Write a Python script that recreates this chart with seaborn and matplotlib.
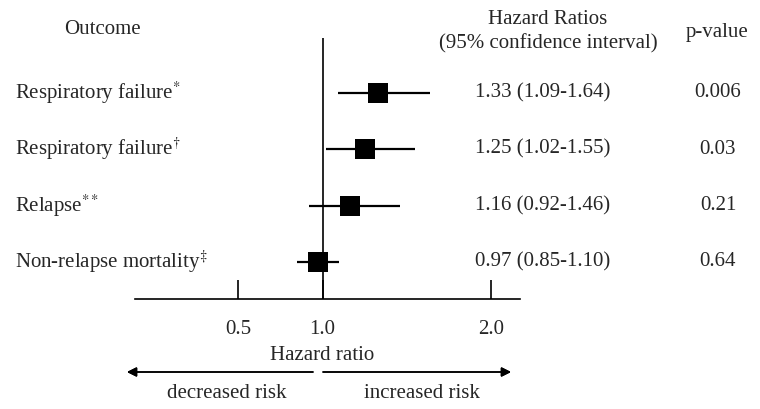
import numpy as np
import seaborn as sns
import matplotlib.pyplot as plt
from matplotlib import transforms

outcomes = ["Respiratory failure", "Respiratory failure", "Relapse", "Non-relapse mortality"]
marks = [r"$^{*}$", r"$^{\dagger}$", r"$^{**}$", r"$^{\ddagger}$"]
hr = [1.33, 1.25, 1.16, 0.97]
ci_lo = [1.09, 1.02, 0.92, 0.85]
ci_hi = [1.64, 1.55, 1.46, 1.10]
pvals = ["0.006", "0.03", "0.21", "0.64"]
xticks = [0.5, 1.0, 2.0]

sns.set_style("white")
plt.rcParams["font.family"] = ["Liberation Serif", "DejaVu Serif"]
plt.rcParams["mathtext.fontset"] = "stix"

W, H = 760, 409
dpi = 100
fig = plt.figure(figsize=(W / dpi, H / dpi), dpi=dpi)

def fx(px):
    return px / W

def fy(py):
    return 1 - py / H

# forest panel: x from 135 to 520 px, y from 38 to 299 px
ax = fig.add_axes([fx(135), fy(299), fx(520) - fx(135), fy(38) - fy(299)])
rows = np.arange(len(hr))

ax.hlines(rows, ci_lo, ci_hi, color="black", lw=1.6)
sns.scatterplot(x=hr, y=rows, marker="s", s=200, color="black", edgecolor="black",
                linewidth=0, zorder=3, ax=ax, legend=False)
ax.axvline(1.0, color="black", lw=1.2)

ax.set_xlim(-0.113, 2.171)
ax.set_ylim(3.66, -0.976)
ax.set(xlabel="", ylabel="")
ax.set_yticks([])
ax.set_xticks(xticks)
ax.set_xticklabels([f"{t:.1f}" for t in xticks])
ax.tick_params(axis="x", direction="in", length=14, width=1.2, pad=15,
               labelsize=15, bottom=True, color="black")
for side in ("top", "left", "right"):
    ax.spines[side].set_visible(False)
ax.spines["bottom"].set_linewidth(1.2)
ax.spines["bottom"].set_color("black")
ax.patch.set_alpha(0)

fs = 15
row_tr = transforms.blended_transform_factory(fig.transFigure, ax.transData)
for i, (name, mk) in enumerate(zip(outcomes, marks)):
    ax.text(fx(15), rows[i], name + mk, transform=row_tr, ha="left", va="center",
            fontsize=fs, clip_on=False)
    ax.text(fx(543), rows[i], f"{hr[i]:.2f} ({ci_lo[i]:.2f}-{ci_hi[i]:.2f})",
            transform=row_tr, ha="center", va="center", fontsize=fs, clip_on=False)
    ax.text(fx(718), rows[i], pvals[i], transform=row_tr, ha="center", va="center",
            fontsize=fs, clip_on=False)

# headers
fig.text(fx(102), fy(30), "Outcome", ha="center", va="center", fontsize=fs)
fig.text(fx(548), fy(19), "Hazard Ratios", ha="center", va="center", fontsize=fs)
fig.text(fx(548), fy(44), "(95% confidence interval)", ha="center", va="center", fontsize=fs)
fig.text(fx(717), fy(32), "p-value", ha="center", va="center", fontsize=fs)

# axis title and direction arrows
fig.text(fx(322), fy(355), "Hazard ratio", ha="center", va="center", fontsize=fs)
arrow = dict(arrowstyle="-|>", color="black", lw=1.1, mutation_scale=14,
             shrinkA=0, shrinkB=0)
fig.add_artist(plt.annotate("", xy=(fx(127), fy(372)), xytext=(fx(313), fy(372)),
                            xycoords="figure fraction", textcoords="figure fraction",
                            arrowprops=arrow))
fig.add_artist(plt.annotate("", xy=(fx(511), fy(372)), xytext=(fx(323), fy(372)),
                            xycoords="figure fraction", textcoords="figure fraction",
                            arrowprops=arrow))
fig.text(fx(227), fy(393), "decreased risk", ha="center", va="center", fontsize=fs)
fig.text(fx(422), fy(393), "increased risk", ha="center", va="center", fontsize=fs)

fig.savefig("out.png", dpi=dpi)
